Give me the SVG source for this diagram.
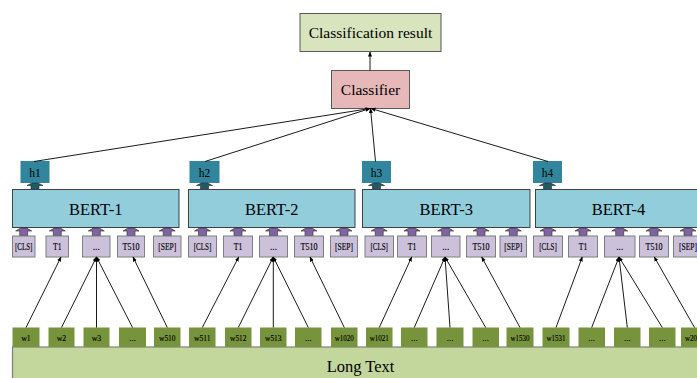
<svg xmlns="http://www.w3.org/2000/svg" xmlns:xlink="http://www.w3.org/1999/xlink" width="697" height="378" viewBox="0 0 697 378">
<defs>
<style>
text{fill:#000;text-anchor:middle}
.big{font-size:15.5px}
.bert{fill:#92cddc;stroke:#404040;stroke-width:1}
.bt{font-size:16.5px}
.h{fill:#31859c;stroke:#31859c}
.ht{font-size:11.5px}
.tok{fill:#ccc1da;stroke:#7f7f7f;stroke-width:1}
.tt{font-size:9.5px;stroke:#000;stroke-width:0.15}
.w{fill:#77933c}
.wt{font-size:9px;stroke:#000;stroke-width:0.15}
.ln{stroke:#000;stroke-width:0.9;fill:none;marker-end:url(#ah)}
.pa{fill:#8064a2;stroke:#262626;stroke-width:0.6}
.ta{fill:#215967;stroke:#262626;stroke-width:0.6}
</style>
<marker id="ah" viewBox="0 0 10 10" refX="9" refY="5" markerWidth="5" markerHeight="5" markerUnits="userSpaceOnUse" orient="auto">
<path d="M0,1 L10,5 L0,9 Z" fill="#000"/>
</marker>
<polygon id="parrow" points="-4,9 -4,4 -8,4 -3,1 3,1 8,4 4,4 4,9"/>
<polygon id="tarrow" points="-4,7 -4,3 -8,3 -3,0.5 3,0.5 8,3 4,3 4,7"/>
</defs>

<g font-family="'Liberation Serif', 'DejaVu Serif', serif">
<g id="result">
<rect x="300" y="13.5" width="141" height="38" fill="#d7e4bd" stroke="#595959"/>
<text class="big" x="370.5" y="37.5">Classification result</text>
</g>
<g id="classifier">
<rect x="331.5" y="70.5" width="78" height="38" fill="#e6b9b8" stroke="#595959"/>
<text class="big" x="370.5" y="95">Classifier</text>
</g>

<g id="h1"><rect class="h" x="21" y="161.5" width="28" height="21"/><text class="ht" x="35" y="177">h1</text></g>
<g id="h2"><rect class="h" x="190" y="161.5" width="29" height="21"/><text class="ht" x="204.5" y="177">h2</text></g>
<g id="h3"><rect class="h" x="362.5" y="161.5" width="28" height="21"/><text class="ht" x="376.5" y="177">h3</text></g>
<g id="h4"><rect class="h" x="533.5" y="161.5" width="28" height="21"/><text class="ht" x="547.5" y="177">h4</text></g>

<g id="harrows">
<use xlink:href="#tarrow" class="ta" transform="translate(35,182.5)"/>
<use xlink:href="#tarrow" class="ta" transform="translate(204.5,182.5)"/>
<use xlink:href="#tarrow" class="ta" transform="translate(376.5,182.5)"/>
<use xlink:href="#tarrow" class="ta" transform="translate(547.5,182.5)"/>
</g>

<g id="bert1"><rect class="bert" x="12.5" y="189.5" width="166.5" height="38"/><text class="bt" x="95.7" y="215">BERT-1</text></g>
<g id="bert2"><rect class="bert" x="188.5" y="189.5" width="166.5" height="38"/><text class="bt" x="271.7" y="215">BERT-2</text></g>
<g id="bert3"><rect class="bert" x="362.5" y="189.5" width="167.5" height="38"/><text class="bt" x="446.2" y="215">BERT-3</text></g>
<g id="bert4"><rect class="bert" x="535.5" y="189.5" width="200" height="38"/><text class="bt" x="618.5" y="215">BERT-4</text></g>

<g id="parrows">
<use xlink:href="#parrow" class="pa" transform="translate(23.7,227)"/>
<use xlink:href="#parrow" class="pa" transform="translate(57.3,227)"/>
<use xlink:href="#parrow" class="pa" transform="translate(96.3,227)"/>
<use xlink:href="#parrow" class="pa" transform="translate(131,227)"/>
<use xlink:href="#parrow" class="pa" transform="translate(167.2,227)"/>
<use xlink:href="#parrow" class="pa" transform="translate(202.5,227)"/>
<use xlink:href="#parrow" class="pa" transform="translate(238,227)"/>
<use xlink:href="#parrow" class="pa" transform="translate(273.5,227)"/>
<use xlink:href="#parrow" class="pa" transform="translate(309,227)"/>
<use xlink:href="#parrow" class="pa" transform="translate(344,227)"/>
<use xlink:href="#parrow" class="pa" transform="translate(379.2,227)"/>
<use xlink:href="#parrow" class="pa" transform="translate(412,227)"/>
<use xlink:href="#parrow" class="pa" transform="translate(445.7,227)"/>
<use xlink:href="#parrow" class="pa" transform="translate(481,227)"/>
<use xlink:href="#parrow" class="pa" transform="translate(513.3,227)"/>
<use xlink:href="#parrow" class="pa" transform="translate(548,227)"/>
<use xlink:href="#parrow" class="pa" transform="translate(583,227)"/>
<use xlink:href="#parrow" class="pa" transform="translate(619.7,227)"/>
<use xlink:href="#parrow" class="pa" transform="translate(654,227)"/>
<use xlink:href="#parrow" class="pa" transform="translate(688,227)"/>
</g>

<g id="tokens1">
<rect class="tok" x="12.5" y="236" width="22.5" height="21"/><text class="tt" x="23.7" y="250" textLength="17.5" lengthAdjust="spacingAndGlyphs">[CLS]</text>
<rect class="tok" x="46" y="236" width="22.5" height="21"/><text class="tt" x="57.3" y="250" textLength="8.5" lengthAdjust="spacingAndGlyphs">T1</text>
<rect class="tok" x="82.5" y="236" width="27.5" height="21"/><text class="tt" x="96.3" y="250">...</text>
<rect class="tok" x="117.5" y="236" width="27" height="21"/><text class="tt" x="131" y="250" textLength="17" lengthAdjust="spacingAndGlyphs">T510</text>
<rect class="tok" x="153.5" y="236" width="27.5" height="21"/><text class="tt" x="167.2" y="250" textLength="18" lengthAdjust="spacingAndGlyphs">[SEP]</text>
</g>
<g id="tokens2">
<rect class="tok" x="188.5" y="236" width="28" height="21"/><text class="tt" x="202.5" y="250" textLength="17.5" lengthAdjust="spacingAndGlyphs">[CLS]</text>
<rect class="tok" x="223.5" y="236" width="29" height="21"/><text class="tt" x="238" y="250" textLength="8.5" lengthAdjust="spacingAndGlyphs">T1</text>
<rect class="tok" x="259.5" y="236" width="28" height="21"/><text class="tt" x="273.5" y="250">...</text>
<rect class="tok" x="294.5" y="236" width="29" height="21"/><text class="tt" x="309" y="250" textLength="17" lengthAdjust="spacingAndGlyphs">T510</text>
<rect class="tok" x="330.5" y="236" width="27" height="21"/><text class="tt" x="344" y="250" textLength="18" lengthAdjust="spacingAndGlyphs">[SEP]</text>
</g>
<g id="tokens3">
<rect class="tok" x="365" y="236" width="28.5" height="21"/><text class="tt" x="379.2" y="250" textLength="17.5" lengthAdjust="spacingAndGlyphs">[CLS]</text>
<rect class="tok" x="397.5" y="236" width="29" height="21"/><text class="tt" x="412" y="250" textLength="8.5" lengthAdjust="spacingAndGlyphs">T1</text>
<rect class="tok" x="431.5" y="236" width="28.5" height="21"/><text class="tt" x="445.7" y="250">...</text>
<rect class="tok" x="466.5" y="236" width="29" height="21"/><text class="tt" x="481" y="250" textLength="17" lengthAdjust="spacingAndGlyphs">T510</text>
<rect class="tok" x="500" y="236" width="26.5" height="21"/><text class="tt" x="513.3" y="250" textLength="18" lengthAdjust="spacingAndGlyphs">[SEP]</text>
</g>
<g id="tokens4">
<rect class="tok" x="533.5" y="236" width="29" height="21"/><text class="tt" x="548" y="250" textLength="17.5" lengthAdjust="spacingAndGlyphs">[CLS]</text>
<rect class="tok" x="568.5" y="236" width="29" height="21"/><text class="tt" x="583" y="250" textLength="8.5" lengthAdjust="spacingAndGlyphs">T1</text>
<rect class="tok" x="604.5" y="236" width="30.5" height="21"/><text class="tt" x="619.7" y="250">...</text>
<rect class="tok" x="639.5" y="236" width="29" height="21"/><text class="tt" x="654" y="250" textLength="17" lengthAdjust="spacingAndGlyphs">T510</text>
<rect class="tok" x="673.5" y="236" width="29.5" height="21"/><text class="tt" x="688" y="250" textLength="18" lengthAdjust="spacingAndGlyphs">[SEP]</text>
</g>

<g id="longtext">
<rect x="12.5" y="347" width="700" height="40" fill="#c3d69b" stroke="#7f7f7f" stroke-width="1.2"/>
<text x="360.5" y="372" font-size="16.5px">Long Text</text>
</g>

<g id="words">
<rect class="w" x="12.5" y="327.5" width="27" height="19.5"/><text class="wt" x="26" y="341" textLength="9.5" lengthAdjust="spacingAndGlyphs">w1</text>
<rect class="w" x="48.5" y="327.5" width="26" height="19.5"/><text class="wt" x="61.5" y="341" textLength="9.5" lengthAdjust="spacingAndGlyphs">w2</text>
<rect class="w" x="83.5" y="327.5" width="26" height="19.5"/><text class="wt" x="96.5" y="341" textLength="9.5" lengthAdjust="spacingAndGlyphs">w3</text>
<rect class="w" x="119" y="327.5" width="27" height="19.5"/><text class="wt" x="132.5" y="341">...</text>
<rect class="w" x="154" y="327.5" width="26.5" height="19.5"/><text class="wt" x="167.3" y="341" textLength="16.5" lengthAdjust="spacingAndGlyphs">w510</text>
<rect class="w" x="189" y="327.5" width="26.5" height="19.5"/><text class="wt" x="202.3" y="341" textLength="16.5" lengthAdjust="spacingAndGlyphs">w511</text>
<rect class="w" x="225" y="327.5" width="26.5" height="19.5"/><text class="wt" x="238.3" y="341" textLength="16.5" lengthAdjust="spacingAndGlyphs">w512</text>
<rect class="w" x="260" y="327.5" width="26.5" height="19.5"/><text class="wt" x="273.3" y="341" textLength="16.5" lengthAdjust="spacingAndGlyphs">w513</text>
<rect class="w" x="295" y="327.5" width="26.5" height="19.5"/><text class="wt" x="308.3" y="341">...</text>
<rect class="w" x="331" y="327.5" width="26.5" height="19.5"/><text class="wt" x="344.3" y="341" textLength="19" lengthAdjust="spacingAndGlyphs">w1020</text>
<rect class="w" x="366" y="327.5" width="26.5" height="19.5"/><text class="wt" x="379.3" y="341" textLength="19" lengthAdjust="spacingAndGlyphs">w1021</text>
<rect class="w" x="401" y="327.5" width="26.5" height="19.5"/><text class="wt" x="414.3" y="341">...</text>
<rect class="w" x="436.5" y="327.5" width="27" height="19.5"/><text class="wt" x="450" y="341">...</text>
<rect class="w" x="472.5" y="327.5" width="26.5" height="19.5"/><text class="wt" x="485.7" y="341">...</text>
<rect class="w" x="506.5" y="327.5" width="27" height="19.5"/><text class="wt" x="520" y="341" textLength="19" lengthAdjust="spacingAndGlyphs">w1530</text>
<rect class="w" x="542.5" y="327.5" width="27" height="19.5"/><text class="wt" x="556" y="341" textLength="19" lengthAdjust="spacingAndGlyphs">w1531</text>
<rect class="w" x="578.5" y="327.5" width="26.5" height="19.5"/><text class="wt" x="591.7" y="341">...</text>
<rect class="w" x="614" y="327.5" width="26.5" height="19.5"/><text class="wt" x="627.3" y="341">...</text>
<rect class="w" x="649" y="327.5" width="26.5" height="19.5"/><text class="wt" x="662.3" y="341">...</text>
<rect class="w" x="681" y="327.5" width="27" height="19.5"/><text class="wt" x="694.5" y="341" textLength="19" lengthAdjust="spacingAndGlyphs">w2040</text>
</g>
</g>

<g id="connectors">
<line class="ln" x1="370" y1="70.5" x2="370" y2="52"/>
<line class="ln" x1="34" y1="161.5" x2="370" y2="108.5"/>
<line class="ln" x1="205" y1="161.5" x2="370" y2="108.5"/>
<line class="ln" x1="375.5" y1="161.5" x2="370.5" y2="108.5"/>
<line class="ln" x1="548" y1="161.5" x2="371" y2="108.5"/>

<line class="ln" x1="26" y1="327.5" x2="61" y2="257"/>
<line class="ln" x1="61.5" y1="327.5" x2="96.5" y2="257"/>
<line class="ln" x1="96.5" y1="327.5" x2="96.5" y2="257"/>
<line class="ln" x1="132.5" y1="327.5" x2="96.5" y2="257"/>
<line class="ln" x1="167.3" y1="327.5" x2="133" y2="257"/>

<line class="ln" x1="202.3" y1="327.5" x2="238.7" y2="257"/>
<line class="ln" x1="238.3" y1="327.5" x2="273.3" y2="257"/>
<line class="ln" x1="273.3" y1="327.5" x2="273.3" y2="257"/>
<line class="ln" x1="308.3" y1="327.5" x2="273.3" y2="257"/>
<line class="ln" x1="344.3" y1="327.5" x2="310" y2="257"/>

<line class="ln" x1="379.3" y1="327.5" x2="411.7" y2="257"/>
<line class="ln" x1="414.3" y1="327.5" x2="445" y2="257"/>
<line class="ln" x1="450" y1="327.5" x2="445" y2="257"/>
<line class="ln" x1="485.7" y1="327.5" x2="445" y2="257"/>
<line class="ln" x1="520" y1="327.5" x2="481.7" y2="257"/>

<line class="ln" x1="556" y1="327.5" x2="582.3" y2="257"/>
<line class="ln" x1="591.7" y1="327.5" x2="619" y2="257"/>
<line class="ln" x1="627.3" y1="327.5" x2="619" y2="257"/>
<line class="ln" x1="662.3" y1="327.5" x2="619" y2="257"/>
<line class="ln" x1="694.5" y1="327.5" x2="654.3" y2="257"/>
</g>
</svg>
